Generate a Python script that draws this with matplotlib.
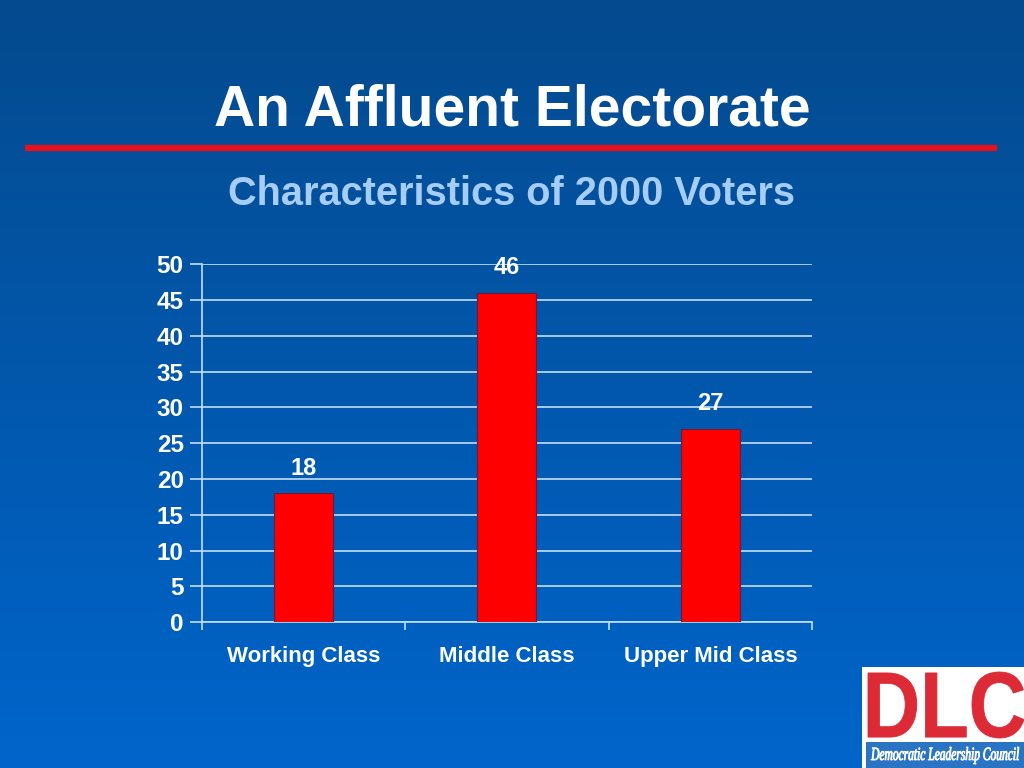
import numpy as np
import matplotlib
matplotlib.use("Agg")
import matplotlib.pyplot as plt
from matplotlib.colors import LinearSegmentedColormap
from matplotlib.patches import Rectangle, PathPatch
from matplotlib.textpath import TextPath
from matplotlib.font_manager import FontProperties
from matplotlib.transforms import Affine2D

categories = ["Working Class", "Middle Class", "Upper Mid Class"]
values = [18, 46, 27]
y_ticks = [0, 5, 10, 15, 20, 25, 30, 35, 40, 45, 50]

title = "An Affluent Electorate"
subtitle = "Characteristics of 2000 Voters"

plt.rcParams["font.family"] = ["Liberation Sans", "DejaVu Sans"]

W, H = 1024, 768
fig = plt.figure(figsize=(W / 100, H / 100), dpi=100)

# gradient background over the whole slide, in pixel coords (y down)
bg = fig.add_axes([0, 0, 1, 1], zorder=-10)
grad = np.linspace(0, 1, 256).reshape(-1, 1)
cmap = LinearSegmentedColormap.from_list("slide", ["#044a8e", "#0065cb"])
bg.imshow(grad, aspect="auto", cmap=cmap, extent=[0, W, H, 0])
bg.set_xlim(0, W)
bg.set_ylim(H, 0)
bg.axis("off")


def fit_text(s, x0, x1, y0, y1, color, **fp):
    # stretch a text path so it fills a pixel box
    tp = TextPath((0, 0), s, size=1, prop=FontProperties(**fp))
    ext = tp.get_extents()
    tr = (Affine2D().translate(-ext.x0, -ext.y0)
          .scale((x1 - x0) / ext.width, -(y1 - y0) / ext.height)
          .translate(x0, y1))
    bg.add_patch(PathPatch(tr.transform_path(tp), facecolor=color,
                           edgecolor=color, lw=0.6))


# title, red rule and subtitle
fig.text(0.5, 0.856, title, color="white", fontsize=41, fontweight="bold",
         ha="center", va="center")
bg.plot([25, 997], [148, 148], color="#e8101a", lw=4.5,
        solid_capstyle="butt")
fig.text(0.5, 0.748, subtitle, color="#a6cdf7", fontsize=28.6,
         fontweight="bold", ha="center", va="center")

# chart
ax = fig.add_axes([0.197, 0.190, 0.596, 0.466])
ax.set_facecolor("none")
x = np.arange(len(categories))
bars = ax.bar(x, values, width=0.29, color="#ff0000", edgecolor="#6a1a40",
              linewidth=0.8, zorder=3)
for b, v in zip(bars, values):
    ax.text(b.get_x() + b.get_width() / 2, v + 1.9, str(v), color="white",
            fontsize=17, fontweight="bold", ha="center", va="bottom")

ax.set_xlim(-0.5, len(categories) - 0.5)
ax.set_ylim(0, 50)
ax.set_yticks(y_ticks)
ax.yaxis.grid(True, color="#c4def8", lw=1.2, zorder=0)
ax.set_xticks(x)
ax.set_xticklabels(categories)
ax.set_xticks(np.arange(-0.5, len(categories)), minor=True)
ax.tick_params(axis="x", which="major", length=0, pad=17, labelsize=16,
               labelcolor="white")
ax.tick_params(axis="x", which="minor", length=6, color="#c4def8", width=1.2)
ax.tick_params(axis="y", length=9, color="#c4def8", width=1.2, labelsize=17.5,
               labelcolor="white", pad=4)
for lbl in ax.get_xticklabels() + ax.get_yticklabels():
    lbl.set_fontweight("bold")
for side in ["top", "right"]:
    ax.spines[side].set_visible(False)
for side in ["left", "bottom"]:
    ax.spines[side].set_color("#c4def8")
    ax.spines[side].set_linewidth(1.2)

# DLC logo box in the corner
bg.add_patch(Rectangle((862, 667), 162, 101, facecolor="white",
                       edgecolor="none"))
bg.add_patch(Rectangle((866, 742), 158, 26, facecolor="#2a74c4",
                       edgecolor="none"))
fit_text("DLC", 868, 1024, 672, 738, "#dc2a36",
         family="Liberation Sans", weight="bold")
fit_text("Democratic Leadership Council", 871, 1019, 747, 764, "white",
         family="Liberation Serif", style="italic")

fig.savefig("out.png", dpi=100)
